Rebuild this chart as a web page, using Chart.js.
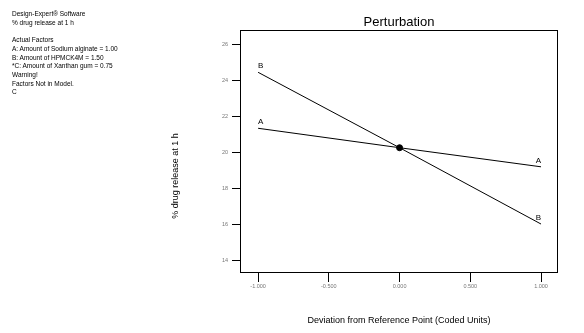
<!DOCTYPE html>
<html>
<head>
<meta charset="utf-8">
<script src="https://cdn.jsdelivr.net/npm/chart.js@4.4.1/dist/chart.umd.min.js"></script>
<style>
  body { margin: 0; background: #fff; }
  #wrap { position: relative; width: 584px; height: 333px; }
  #notes {
    position: absolute; left: 12px; top: 10px;
    font-family: "Liberation Sans", Arial, sans-serif;
    font-size: 6.5px; line-height: 8.7px; color: #000;
    white-space: pre;
  }
  canvas { position: absolute; left: 0; top: 0; }
</style>
</head>
<body>
<div id="wrap">
  <canvas id="chart" width="584" height="333"></canvas>
  <div id="notes">Design-Expert® Software
% drug release at 1 h

Actual Factors
A: Amount of Sodium alginate = 1.00
B: Amount of HPMCK4M = 1.50
*C: Amount of Xanthan gum = 0.75
Warning!
Factors Not in Model.
C</div>
</div>
<script>
// deviation from reference point (coded units)
const devX = [-1, 0, 1];
// % drug release at 1 h
const seriesA = [21.32, 20.24, 19.18];
const seriesB = [24.43, 20.24, 16.0];
const refPoint = [20.24];

const xTicks = [-1, -0.5, 0, 0.5, 1];
const yTicks = [14, 16, 18, 20, 22, 24, 26];

const fontFam = '"Liberation Sans", Arial, sans-serif';

//frame around plot + A/B tags + y title
const framePlugin = {
    id: 'frame',
    afterDatasetsDraw(chart) {
        const ctx = chart.ctx;
        const a = chart.chartArea;
        const xs = chart.scales.x, ys = chart.scales.y;
        ctx.save();
        ctx.strokeStyle = '#000';
        ctx.lineWidth = 1;
        ctx.strokeRect(Math.round(a.left) + 0.5, Math.round(a.top) + 0.5,
            Math.round(a.right - a.left) - 1, Math.round(a.bottom - a.top) - 1);

        ctx.fillStyle = '#000';
        ctx.font = '8px ' + fontFam;
        ctx.textBaseline = 'alphabetic';
        chart.data.datasets.forEach(ds => {
            if (!ds.tag) return;
            const first = ds.data[0], last = ds.data[ds.data.length - 1];
            ctx.textAlign = 'left';
            ctx.fillText(ds.tag, xs.getPixelForValue(first.x), ys.getPixelForValue(first.y) - 4);
            ctx.textAlign = 'right';
            ctx.fillText(ds.tag, xs.getPixelForValue(last.x), ys.getPixelForValue(last.y) - 4);
        });

        ctx.translate(176, 176);
        ctx.rotate(-Math.PI / 2);
        ctx.textAlign = 'center';
        ctx.textBaseline = 'middle';
        ctx.font = '9px ' + fontFam;
        ctx.fillText('% drug release at 1 h', 0, 0);
        ctx.restore();
    }
};

function pts(ys) {
    return devX.map((x, i) => ({x: x, y: ys[i]}));
}

new Chart(document.getElementById('chart'), {
    type: 'line',
    data: {
        datasets: [
            {label: 'A', tag: 'A', data: pts(seriesA), borderColor: '#000', borderWidth: 1, pointRadius: 0, tension: 0},
            {label: 'B', tag: 'B', data: pts(seriesB), borderColor: '#000', borderWidth: 1, pointRadius: 0, tension: 0},
            {label: 'ref', data: [{x: 0, y: refPoint[0]}], showLine: false, pointRadius: 3,
                pointBackgroundColor: '#000', pointBorderColor: '#000'}
        ]
    },
    options: {
        responsive: false,
        animation: false,
        events: [],
        layout: { padding: { left: 170, right: 26, top: 0, bottom: 0 } },
        plugins: {
            legend: { display: false },
            tooltip: { enabled: false },
            title: {
                display: true,
                text: 'Perturbation',
                fullSize: false,
                color: '#000',
                font: { family: fontFam, size: 13, weight: 'normal' },
                padding: { top: 14.2, bottom: 0.2 }
            }
        },
        scales: {
            x: {
                type: 'linear',
                min: -1.128,
                max: 1.12,
                afterBuildTicks: s => { s.ticks = xTicks.map(v => ({value: v})); },
                afterFit: s => { s.height = 60; },
                grid: { display: true, drawOnChartArea: false, color: '#000', tickLength: 9, tickWidth: 1 },
                border: { display: false },
                ticks: {
                    color: '#777', padding: 1, maxRotation: 0,
                    font: { family: fontFam, size: 5.5 },
                    callback: v => v.toFixed(3)
                },
                title: {
                    display: true,
                    text: 'Deviation from Reference Point (Coded Units)',
                    color: '#000',
                    font: { family: fontFam, size: 9 },
                    padding: { top: 0, bottom: 7 }
                }
            },
            y: {
                min: 13.28,
                max: 26.78,
                afterBuildTicks: s => { s.ticks = yTicks.map(v => ({value: v})); },
                afterFit: s => { s.width = 70; },
                grid: { display: true, drawOnChartArea: false, color: '#000', tickLength: 8, tickWidth: 1 },
                border: { display: false },
                ticks: {
                    color: '#777', padding: 4,
                    font: { family: fontFam, size: 5.5 }
                }
            }
        }
    },
    plugins: [framePlugin]
});
</script>
</body>
</html>
